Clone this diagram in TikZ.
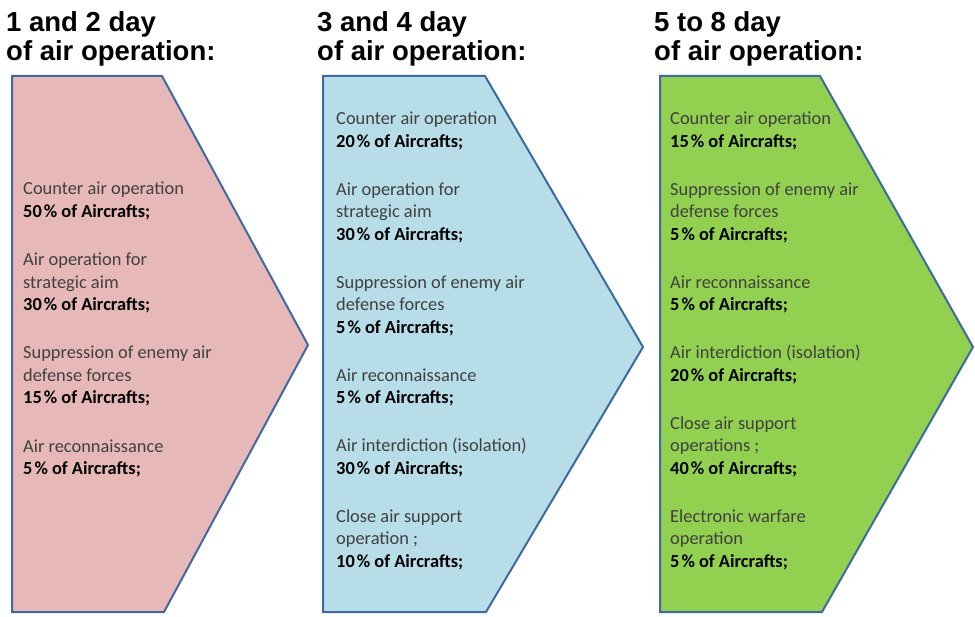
\documentclass[tikz,border=0pt]{standalone}
\usepackage{fontspec}
\setmainfont{Carlito}
\newfontfamily\headfont{Liberation Sans}
\definecolor{edgeblue}{RGB}{62,106,160}
\definecolor{pinkfill}{RGB}{230,185,184}
\definecolor{bluefill}{RGB}{183,221,232}
\definecolor{greenfill}{RGB}{146,208,80}
\definecolor{bodygray}{RGB}{64,64,64}
\newcommand{\pct}[1]{\textbf{\color{black}#1\kern2pt\% of Aircrafts;}}
\begin{document}
\begin{tikzpicture}[x=1pt,y=-1pt,
  chev/.style={draw=edgeblue, line width=2pt, line join=miter},
  head/.style={font=\headfont\bfseries\fontsize{27.5}{29}\selectfont, align=left,
    anchor=base west, inner sep=0pt},
  body/.style={font=\fontsize{18.4}{22.5}\selectfont, text=bodygray, align=left,
    anchor=base west, inner sep=0pt}]
\useasboundingbox (0,0) rectangle (975,617);

% the three day-phase chevrons
\draw[chev, fill=pinkfill]  (12,76) -- (162,76) -- (308,345) -- (164,612) -- (12,612) -- cycle;
\draw[chev, fill=bluefill]  (323,76) -- (485,76) -- (643,347) -- (486,612) -- (323,612) -- cycle;
\draw[chev, fill=greenfill] (660,76) -- (820,76) -- (973,347) -- (822,612) -- (660,612) -- cycle;

% headings (anchored on the baseline of their last line)
\node[head] (h1) at (6,61)   {1 and 2 day\\of air operation:};
\node[head] (h2) at (317,61) {3 and 4 day\\of air operation:};
\node[head] (h3) at (654,61) {5 to 8 day\\of air operation:};

% task shares (anchored on the baseline of their last line)
\node[body] (b1) at (23,475) {Counter air operation\\ \pct{50}\\[26pt]
  Air operation for\\ strategic aim\\ \pct{30}\\[26pt]
  Suppression of enemy air\\ defense forces\\ \pct{15}\\[26pt]
  Air reconnaissance\\ \pct{5}};

\node[body] (b2) at (336,567) {Counter air operation\\ \pct{20}\\[25.5pt]
  Air operation for\\ strategic aim\\ \pct{30}\\[25.5pt]
  Suppression of enemy air\\ defense forces\\ \pct{5}\\[25.5pt]
  Air reconnaissance\\ \pct{5}\\[25.5pt]
  Air interdiction (isolation)\\ \pct{30}\\[25.5pt]
  Close air support\\ operation ;\\ \pct{10}};

\node[body] (b3) at (670,567) {Counter air operation\\ \pct{15}\\[25.5pt]
  Suppression of enemy air\\ defense forces\\ \pct{5}\\[25.5pt]
  Air reconnaissance\\ \pct{5}\\[25.5pt]
  Air interdiction (isolation)\\ \pct{20}\\[25.5pt]
  Close air support\\ operations ;\\ \pct{40}\\[25.5pt]
  Electronic warfare\\ operation\\ \pct{5}};
\end{tikzpicture}
\end{document}
